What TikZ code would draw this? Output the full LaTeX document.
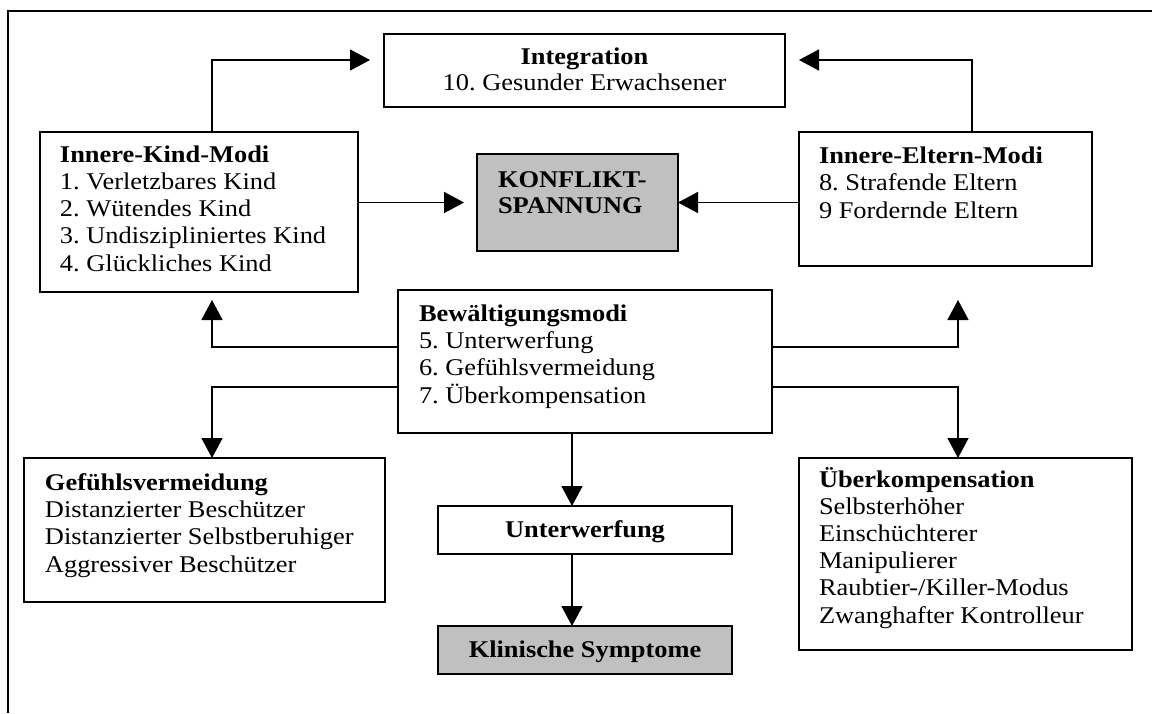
\documentclass[tikz,border=0pt]{standalone}
\usepackage{fontspec}
\setmainfont{Liberation Serif}[FakeStretch=1.1]
\usetikzlibrary{arrows.meta}
\definecolor{boxgrey}{RGB}{192,192,192}
\frenchspacing
\begin{document}
\begin{tikzpicture}[x=0.5pt,y=-0.5pt,
  box/.style={draw, line width=0.75pt, rectangle, anchor=north west, inner sep=0pt, outer sep=0pt},
  greybox/.style={box, fill=boxgrey},
  txt/.style={inner sep=0pt, outer sep=0pt, align=left, anchor=base west, font=\fontsize{12pt}{13.6pt}\selectfont},
  ctxt/.style={txt, align=center, anchor=base},
  conn/.style={line width=0.8pt, -{Triangle[width=10.5pt,length=10pt]}}
]
\useasboundingbox (0,0) rectangle (1152,713);
\draw[line width=1pt] (1152,11) -- (8,11) -- (8,713);

% boxes
\node[box, minimum width=200.5pt, minimum height=36.5pt] (integ) at (384,34) {};
\node[box, minimum width=159pt, minimum height=80pt] (ik) at (40,132) {};
\node[greybox, minimum width=100.5pt, minimum height=48.5pt] (konf) at (477,154) {};
\node[box, minimum width=146.5pt, minimum height=67pt] (ie) at (799,132) {};
\node[box, minimum width=187pt, minimum height=71.5pt] (bew) at (398,290) {};
\node[box, minimum width=180.5pt, minimum height=72pt] (gef) at (24,458) {};
\node[box, minimum width=166.5pt, minimum height=96pt] (ueber) at (799,458) {};
\node[box, minimum width=147pt, minimum height=24pt] (unter) at (438,506) {};
\node[greybox, minimum width=147pt, minimum height=24pt] (klin) at (438,626) {};

% texts (anchor = baseline of the last line)
\node[ctxt] (integT) at (584.5,90) {\textbf{Integration}\\[-0.8pt]10. Gesunder Erwachsener};
\node[txt] (ikT) at (60,271) {\textbf{Innere-Kind-Modi}\\1. Verletzbares Kind\\2. Wütendes Kind\\3. Undiszipliniertes Kind\\4. Glückliches Kind};
\node[txt] (konfT) at (498,213) {\textbf{KONFLIKT-}\\[-1pt]\textbf{SPANNUNG}};
\node[txt] (ieT) at (819,218) {\textbf{Innere-Eltern-Modi}\\8. Strafende Eltern\\9 Fordernde Eltern};
\node[txt] (bewT) at (419,403) {\textbf{Bewältigungsmodi}\\5. Unterwerfung\\6. Gefühlsvermeidung\\7. Überkompensation};
\node[txt] (gefT) at (45,572) {\textbf{Gefühlsvermeidung}\\Distanzierter Beschützer\\Distanzierter Selbstberuhiger\\Aggressiver Beschützer};
\node[txt] (ueberT) at (819,623) {\textbf{Überkompensation}\\Selbsterhöher\\Einschüchterer\\Manipulierer\\Raubtier-/Killer-Modus\\Zwanghafter Kontrolleur};
\node[ctxt] (unterT) at (585,537) {\textbf{Unterwerfung}};
\node[ctxt] (klinT) at (585,657) {\textbf{Klinische Symptome}};

% helper coordinates
\coordinate (cl) at (212,60);
\coordinate (cr) at (972,60);
\coordinate (yA) at (0,347);
\coordinate (yB) at (0,387);
\coordinate (xL) at (212,0);
\coordinate (xR) at (958,0);
\coordinate (xM) at (572,0);

% connectors
\draw[conn, shorten >=7pt] (ik.north -| cl) |- (integ.west |- cl);
\draw[conn, shorten >=7pt] (ie.north -| cr) |- (integ.east |- cr);
\draw[conn, shorten >=6.5pt] (ik.east |- konf.west) -- (konf.west);
\draw[conn] (ie.west |- konf.east) -- (konf.east);
\draw[conn, shorten >=4pt] (bew.west |- yA) -| (xL |- ik.south);
\draw[conn] (bew.west |- yB) -| (xL |- gef.north);
\draw[conn, shorten >=17pt] (bew.east |- yA) -| (xR |- ie.south);
\draw[conn] (bew.east |- yB) -| (xR |- ueber.north);
\draw[conn] (bew.south -| xM) -- (unter.north -| xM);
\draw[conn] (unter.south -| xM) -- (klin.north -| xM);
\end{tikzpicture}
\end{document}
